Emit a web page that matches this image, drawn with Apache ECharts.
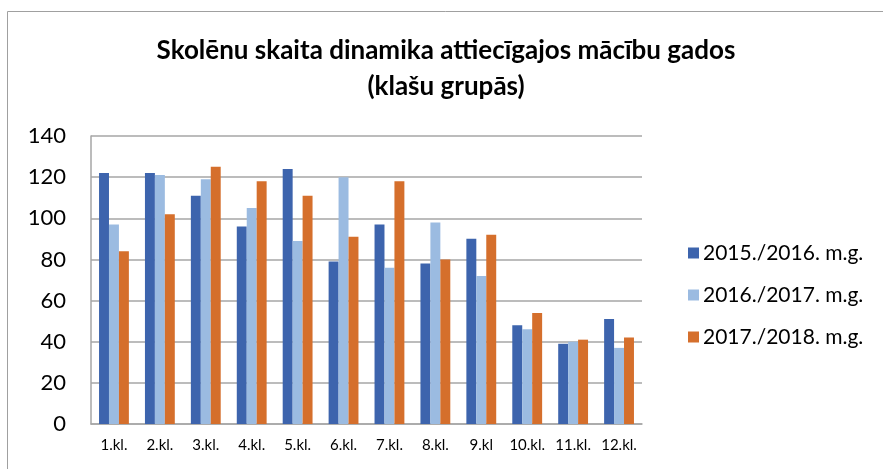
<!DOCTYPE html>
<html>
<head>
<meta charset="utf-8">
<script src="https://cdn.jsdelivr.net/npm/echarts@6/dist/echarts.min.js"></script>
<style>
  html, body { margin: 0; padding: 0; background: #fff; }
  #chart { width: 883px; height: 469px; }
</style>
</head>
<body>
<div id="chart"></div>
<script>
// klases
var categories = ['1.kl.', '2.kl.', '3.kl.', '4.kl.', '5.kl.', '6.kl.', '7.kl.', '8.kl.', '9.kl', '10.kl.', '11.kl.', '12.kl.'];
var seriesNames = ['2015./2016. m.g.', '2016./2017. m.g.', '2017./2018. m.g.'];
var y2015 = [122, 122, 111, 96, 124, 79, 97, 78, 90, 48, 39, 51];
var y2016 = [97, 121, 119, 105, 89, 120, 76, 98, 72, 46, 40, 37];
var y2017 = [84, 102, 125, 118, 111, 91, 118, 80, 92, 54, 41, 42];
var yTicks = [0, 20, 40, 60, 80, 100, 120, 140];

var colors = ['#3d64ad', '#9bbbe1', '#d56f2c'];
var font = 'Lato, "Open Sans", sans-serif';

var chart = echarts.init(document.getElementById('chart'));

var option = {
  animation: false,
  color: colors,
  // ārējais rāmis
  graphic: [{
    type: 'rect',
    shape: { x: 7.5, y: 11.5, width: 900, height: 480 },
    style: { fill: 'none', stroke: '#a0a0a0', lineWidth: 1 }
  }],
  title: {
    text: 'Skolēnu skaita dinamika attiecīgajos mācību gados\n(klašu grupās)',
    left: 441,
    textAlign: 'center',
    top: 28,
    textStyle: {
      fontFamily: font,
      fontWeight: 'bold',
      fontSize: 26,
      lineHeight: 36,
      color: '#000'
    }
  },
  legend: {
    orient: 'vertical',
    left: 683,
    top: 236,
    itemWidth: 11,
    itemHeight: 11,
    itemGap: 18,
    icon: 'rect',
    data: seriesNames,
    textStyle: { fontFamily: font, fontSize: 21, color: '#000', lineHeight: 24, padding: [0, 0, 0, -1] }
  },
  grid: { left: 91, right: 241, top: 136, bottom: 45 },
  xAxis: {
    type: 'category',
    data: categories,
    axisLine: { lineStyle: { color: '#a6a6a6', width: 1.5 } },
    axisTick: { show: false },
    axisLabel: { interval: 0, fontFamily: font, fontSize: 15, color: '#000', margin: 14 }
  },
  yAxis: {
    type: 'value',
    min: yTicks[0],
    max: yTicks[yTicks.length - 1],
    interval: 20,
    axisLine: { show: true, lineStyle: { color: '#a6a6a6', width: 1.5 } },
    axisTick: { show: false },
    splitLine: { lineStyle: { color: '#a6a6a6', width: 1.5 } },
    axisLabel: { fontFamily: font, fontSize: 22, color: '#000', margin: 25 }
  },
  series: [
    { name: seriesNames[0], type: 'bar', data: y2015, barGap: '0%', barCategoryGap: '35%' },
    { name: seriesNames[1], type: 'bar', data: y2016, barGap: '0%', barCategoryGap: '35%' },
    { name: seriesNames[2], type: 'bar', data: y2017, barGap: '0%', barCategoryGap: '35%' }
  ]
};

chart.setOption(option);
</script>
</body>
</html>
